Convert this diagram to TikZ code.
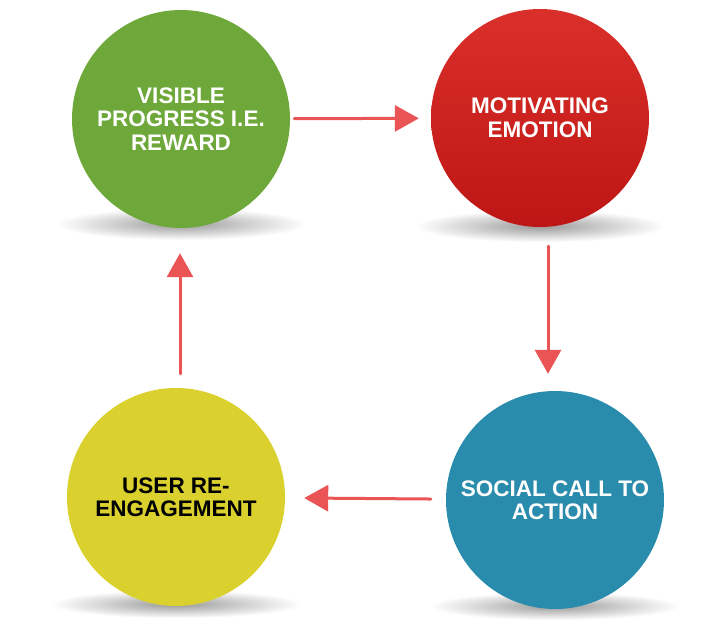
\documentclass[tikz,border=0pt]{standalone}
\usepackage{fontspec}
\setmainfont{Liberation Sans}
\usetikzlibrary{arrows.meta,positioning,calc}

\definecolor{stagegreen}{RGB}{110,168,58}
\definecolor{stagered}{RGB}{214,30,24}
\definecolor{stagereddark}{RGB}{190,22,20}
\definecolor{stageblue}{RGB}{42,140,172}
\definecolor{stageyellow}{RGB}{218,208,46}
\definecolor{flowred}{RGB}{234,84,84}

\begin{document}
\begin{tikzpicture}[x=1pt, y=-1pt,
  stage/.style={circle, minimum size=218pt, inner sep=0pt, align=center,
    font=\bfseries\fontsize{22.5}{23.5}\selectfont, text=white},
  flow/.style={draw=flowred, line width=3pt, line cap=round,
    -{Triangle[width=26pt, length=24pt]}},
  floor/.style={inner color=black!40, outer color=white}
]

% Canvas
\fill[white] (0,0) rectangle (702,619);
\useasboundingbox (0,0) rectangle (702,619);

% Floor shadows
\shade[floor] (181,224) ellipse [x radius=125pt, y radius=16pt];
\shade[floor] (540,226) ellipse [x radius=125pt, y radius=16pt];
\shade[floor] (176,604) ellipse [x radius=125pt, y radius=14pt];
\shade[floor] (555,606) ellipse [x radius=125pt, y radius=14pt];

% Stages of the loop
\node[stage, fill=stagegreen] (progress) at (181,119) {VISIBLE\\PROGRESS I.E.\\REWARD};
\node[stage, top color=stagered!92!white, bottom color=stagereddark] (emotion) at (540,118) {MOTIVATING\\EMOTION};
\node[stage, fill=stageblue] (action) at (555,500) {SOCIAL CALL TO\\ACTION};
\node[stage, fill=stageyellow, text=black] (reengage) at (176,497) {USER RE-\\ENGAGEMENT};

% Flow between the stages
\draw[flow, shorten <=4pt, shorten >=12pt] (progress) -- (emotion);
\draw[flow, shorten <=19pt, shorten >=17pt] ([xshift=8pt]emotion.south) -- ([xshift=-7pt]action.north);
\draw[flow, shorten <=15pt, shorten >=19pt] (action) -- (reengage);
\draw[flow, shorten <=14pt, shorten >=25pt] ([xshift=4pt]reengage.north) -- ([xshift=-1pt]progress.south);

\end{tikzpicture}
\end{document}
